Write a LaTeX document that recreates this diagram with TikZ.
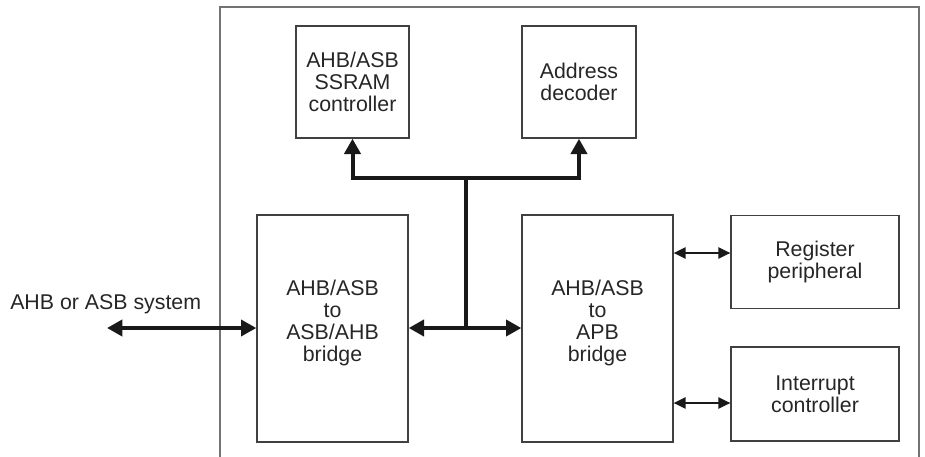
\documentclass[tikz,border=0pt]{standalone}
\usepackage{fontspec}
\setmainfont{Liberation Sans}
\usetikzlibrary{arrows.meta}
\begin{document}
\begin{tikzpicture}[x=0.75pt,y=-0.75pt,
  every node/.style={font=\fontsize{16}{16.4}\selectfont, text=black!85},
  blockbox/.style={draw=black!75, line width=1pt, align=center, inner sep=0pt},
  frameline/.style={draw=black!55, line width=1pt},
  busline/.style={draw=black!90, line width=3pt},
  bushead/.style={-{Triangle[length=11.5pt,width=12pt]}},
  busboth/.style={{Triangle[length=11.5pt,width=12pt]}-{Triangle[length=11.5pt,width=12pt]}},
  thinboth/.style={draw=black!90, line width=1.2pt,
    {Triangle[length=9pt,width=8.5pt]}-{Triangle[length=9pt,width=8.5pt]}}]
\useasboundingbox (0,0) rectangle (925,457);

% enclosing frame, open below
\draw[frameline] (220,470) -- (220,7) -- (919,7) -- (919,470);

% blocks
\node[blockbox, minimum width=84.75pt, minimum height=84pt] (ssram) at (352.5,82)
  {AHB/ASB\\SSRAM\\controller};
\node[blockbox, minimum width=85.5pt, minimum height=84pt] (dec) at (579,82)
  {Address\\decoder};
\node[blockbox, minimum width=113.25pt, minimum height=170.25pt] (lb) at (332.5,328.5) {};
\node[align=center] (lbtext) at (332.5,323) {AHB/ASB\\to\\ASB/AHB\\bridge};
\node[blockbox, minimum width=113.25pt, minimum height=170.25pt] (apb) at (597.5,328.5) {};
\node[align=center] (apbtext) at (597.5,323) {AHB/ASB\\to\\APB\\bridge};
\node[blockbox, minimum width=126pt, minimum height=69.75pt] (reg) at (815,262)
  {Register\\peripheral};
\node[blockbox, minimum width=126pt, minimum height=70.5pt] (irq) at (815,394)
  {Interrupt\\controller};

% external system label
\node[anchor=base west, inner sep=0pt] (sys) at (10,309) {AHB or ASB system};

% main bus
\coordinate (top) at (466,178);
\coordinate (low) at (466,328);
\coordinate (ext) at (107,328);
\draw[busline, bushead] (low) -- (top) -| (ssram.south);
\draw[busline, bushead] (top) -| (dec.south);
\draw[busline, busboth] (lb.east |- low) -- (apb.west |- low);
\draw[busline, busboth] (ext) -- (lb.west |- ext);

% peripheral links
\coordinate (r1) at (700,253);
\coordinate (r2) at (700,403);
\draw[thinboth] (apb.east |- r1) -- (reg.west |- r1);
\draw[thinboth] (apb.east |- r2) -- (irq.west |- r2);
\end{tikzpicture}
\end{document}
